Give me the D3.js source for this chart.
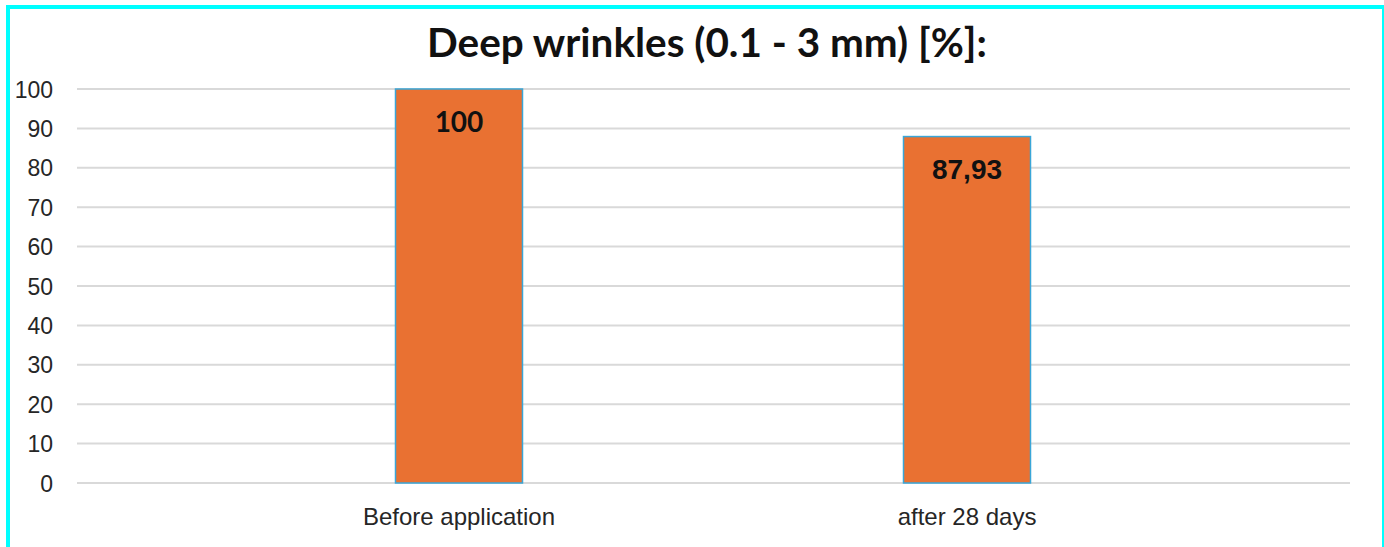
<!DOCTYPE html>
<html><head><meta charset="utf-8">
<script src="https://cdn.jsdelivr.net/npm/d3@7"></script>
<style>html,body{margin:0;padding:0;background:#fff;overflow:hidden}</style>
</head><body>
<svg id="chart" width="1384" height="547"></svg>
<script>
const title = "Deep wrinkles (0.1 - 3 mm) [%]:";
const categories = ["Before application", "after 28 days"];
const values = [100, 87.93];
const valueLabels = ["100", "87,93"];
const tickValues = [0,10,20,30,40,50,60,70,80,90,100];

const svg = d3.select("#chart");
const W = 1384, H = 547;
svg.append("rect").attr("width", W).attr("height", H).attr("fill", "#fff");

const y = d3.scaleLinear().domain([0, 100]).range([483, 89]);
const x = d3.scaleBand().domain(categories).range([205, 1221]).paddingInner(0.75).paddingOuter(0.375);
const gridL = 77, gridR = 1350;

// gridlines
svg.append("g").selectAll("line").data(tickValues).join("line")
  .attr("x1", gridL).attr("x2", gridR)
  .attr("y1", d => y(d)).attr("y2", d => y(d))
  .attr("stroke", "#d9d9d9").attr("stroke-width", 2);

// y axis labels
const yAxis = d3.axisLeft(y).tickValues(tickValues).tickSize(0).tickPadding(0);
const gy = svg.append("g").attr("transform", "translate(53,0)").call(yAxis);
gy.select(".domain").remove();
gy.selectAll("text").attr("font-family", "Liberation Sans, Arial, sans-serif")
  .attr("font-size", 23).attr("fill", "#262626").attr("dy", "0.35em");

// bars
svg.append("g").selectAll("rect").data(values).join("rect")
  .attr("x", (d, i) => x(categories[i]))
  .attr("width", x.bandwidth())
  .attr("y", d => y(d))
  .attr("height", d => y(0) - y(d))
  .attr("fill", "#E97132")
  .attr("stroke", "#3AA6D8").attr("stroke-width", 1.5);

// value labels
svg.append("g").selectAll("text").data(values).join("text")
  .attr("x", (d, i) => x(categories[i]) + x.bandwidth() / 2)
  .attr("y", d => y(d) + 33)
  .attr("dy", "0.35em")
  .attr("text-anchor", "middle")
  .attr("font-family", (d, i) => i === 0 ? "Lato, sans-serif" : "Liberation Sans, Arial, sans-serif")
  .attr("font-weight", "bold")
  .attr("font-size", 28)
  .attr("fill", "#111")
  .text((d, i) => valueLabels[i]);

// category labels
const xAxis = d3.axisBottom(x).tickSize(0).tickPadding(0);
const gx = svg.append("g").attr("transform", "translate(0,517)").call(xAxis);
gx.select(".domain").remove();
gx.selectAll("text").attr("font-family", "Liberation Sans, Arial, sans-serif")
  .attr("font-size", 24).attr("fill", "#262626").attr("dy", "0.35em");

// title
const t = svg.append("text").attr("x", 707).attr("y", 43).attr("dy", "0.35em")
  .attr("text-anchor", "middle").attr("font-family", "Lato, sans-serif")
  .attr("font-weight", "bold").attr("font-size", 33).attr("fill", "#111").text(title);
const tw = t.node().getComputedTextLength();
if (tw > 0) t.attr("font-size", 33 * 560 / tw);

// frame
svg.append("rect").attr("x", 8).attr("y", 7).attr("width", 1376).attr("height", 560)
  .attr("fill", "none").attr("stroke", "#00FFFF").attr("stroke-width", 4);
</script>
</body></html>
